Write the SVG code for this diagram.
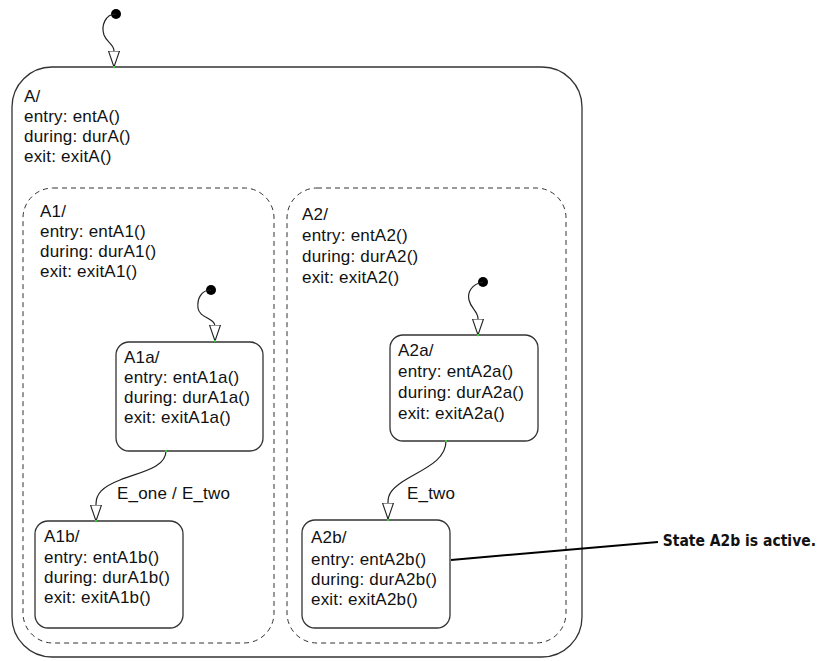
<svg xmlns="http://www.w3.org/2000/svg" width="822" height="661" viewBox="0 0 822 661">
<style>
.st{fill:none;stroke:#333;stroke-width:1.3}
.par{fill:none;stroke:#333;stroke-width:1;stroke-dasharray:5 4}
.t{font-family:"Liberation Sans",Arial,sans-serif;font-size:17px;letter-spacing:0.2px;fill:#111}
.c{fill:none;stroke:#222;stroke-width:1.2}
.dot{fill:#000}
.g{fill:#3c3}
.note{font-family:"DejaVu Sans Condensed","DejaVu Sans",sans-serif;font-size:15.5px;font-weight:bold;fill:#111}
</style>
<defs>
<marker id="ah" markerWidth="18" markerHeight="14" refX="16.5" refY="6" orient="auto" markerUnits="userSpaceOnUse" viewBox="0 0 18 12">
<path d="M0.5,0.5 L0.5,11.5 L16.5,6 Z" fill="#fff" stroke="#222" stroke-width="1.1"/>
</marker>
</defs>
<rect width="822" height="661" fill="#fff"/>
<g id="A">
<rect class="st" x="12" y="67" width="570" height="590" rx="40" ry="40"/>
<text class="t" x="24" y="102">A/</text>
<text class="t" x="24" y="122">entry: entA()</text>
<text class="t" x="24" y="142">during: durA()</text>
<text class="t" x="24" y="162">exit: exitA()</text>
</g>
<g id="A1">
<rect class="par" x="23" y="188" width="251" height="455" rx="30" ry="30"/>
<text class="t" x="40" y="217">A1/</text>
<text class="t" x="40" y="237">entry: entA1()</text>
<text class="t" x="40" y="257">during: durA1()</text>
<text class="t" x="40" y="277">exit: exitA1()</text>
</g>
<g id="A2">
<rect class="par" x="287" y="188" width="279" height="455" rx="30" ry="30"/>
<text class="t" x="302" y="220">A2/</text>
<text class="t" x="302" y="241">entry: entA2()</text>
<text class="t" x="302" y="262">during: durA2()</text>
<text class="t" x="302" y="283">exit: exitA2()</text>
</g>
<g id="A1a">
<rect class="st" x="116" y="342" width="147" height="109" rx="13" ry="13"/>
<text class="t" x="124" y="363">A1a/</text>
<text class="t" x="124" y="383">entry: entA1a()</text>
<text class="t" x="124" y="403">during: durA1a()</text>
<text class="t" x="124" y="423">exit: exitA1a()</text>
</g>
<g id="A1b">
<rect class="st" x="35" y="521" width="148" height="107" rx="13" ry="13"/>
<text class="t" x="44" y="542">A1b/</text>
<text class="t" x="44" y="563">entry: entA1b()</text>
<text class="t" x="44" y="583">during: durA1b()</text>
<text class="t" x="44" y="603">exit: exitA1b()</text>
</g>
<g id="A2a">
<rect class="st" x="390" y="335" width="148" height="106" rx="13" ry="13"/>
<text class="t" x="398" y="356">A2a/</text>
<text class="t" x="398" y="377">entry: entA2a()</text>
<text class="t" x="398" y="398">during: durA2a()</text>
<text class="t" x="398" y="419">exit: exitA2a()</text>
</g>
<g id="A2b">
<rect class="st" x="302" y="520" width="148" height="108" rx="13" ry="13"/>
<text class="t" x="311" y="543">A2b/</text>
<text class="t" x="311" y="565">entry: entA2b()</text>
<text class="t" x="311" y="585">during: durA2b()</text>
<text class="t" x="311" y="605">exit: exitA2b()</text>
</g>
<g id="connectors">
<circle class="dot" cx="116" cy="14" r="5"/>
<path class="c" d="M116,14 C105,14 101,26 104,35 C107,43 114,44 114,51 L114,67" marker-end="url(#ah)"/>
<circle class="dot" cx="211" cy="290" r="5"/>
<path class="c" d="M211,290 C201,290 197,299 198,308 C199,318 215,318 215,326 L215,341" marker-end="url(#ah)"/>
<circle class="dot" cx="483" cy="282" r="5"/>
<path class="c" d="M483,282 C472,284 467,292 469,300 C471,309 478,311 478,319 L478,335" marker-end="url(#ah)"/>
<path class="c" d="M166,451 C166,468 140,472 120,480 C102,487 96,494 96,504 L96,521" marker-end="url(#ah)"/>
<text class="t" x="117" y="499">E_one / E_two</text>
<path class="c" d="M446,441 C446,462 420,470 402,482 C392,489 388,494 388,502 L388,519" marker-end="url(#ah)"/>
<text class="t" x="407" y="499">E_two</text>
<rect class="g" x="113" y="66" width="2" height="2"/>
<rect class="g" x="214" y="340" width="2" height="2"/>
<rect class="g" x="477" y="334" width="2" height="2"/>
<rect class="g" x="165" y="450" width="2" height="2"/>
<rect class="g" x="95" y="520" width="2" height="2"/>
<rect class="g" x="445" y="440" width="2" height="2"/>
<rect class="g" x="387" y="519" width="2" height="2"/>
</g>
<g id="note">
<path d="M451,560 L658,542" fill="none" stroke="#000" stroke-width="2"/>
<text class="note" x="816" y="546" text-anchor="end">State A2b is active.</text>
</g>
</svg>
